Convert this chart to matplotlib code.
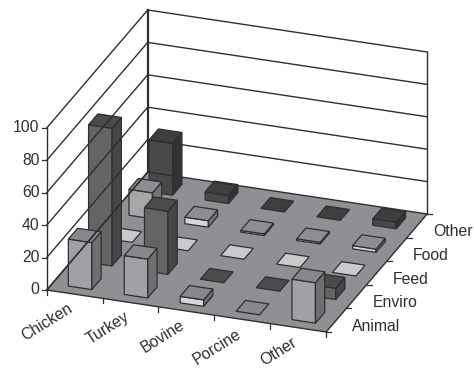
import matplotlib
matplotlib.use('Agg')
import matplotlib.pyplot as plt
from matplotlib.patches import Polygon

plt.rcParams['font.family'] = ['Liberation Sans', 'DejaVu Sans']

# 数据
categories = ['Chicken', 'Turkey', 'Bovine', 'Porcine', 'Other']
sources = ['Animal', 'Enviro', 'Feed', 'Food', 'Other']
animal = [29, 24, 4, 0, 25]
enviro = [85, 39, 0, 0, 7]
feed = [0, 0, 0, 0, 0]
food = [16, 4, 1, 1, 2]
other = [32, 5, 0, 0, 4]
series = [animal, enviro, feed, food, other]
z_ticks = [0, 20, 40, 60, 80, 100]

# 每个系列的颜色 (正面, 顶面, 侧面)
colors = [
    ('#a0a1a4', '#87888b', '#6e6f71'),
    ('#636466', '#4a4b4d', '#454648'),
    ('#c9cacc', '#c9cacc', '#a0a1a4'),
    ('#a6a7a9', '#8d8e91', '#737477'),
    ('#47484a', '#3d3e40', '#323335'),
]
short_front = '#d6d7d9'  # 矮柱子的正面看起来更亮
floor_color = '#8f9093'
edge = '#2f2f2f'
text_color = '#2e2e2e'

# 斜投影: 类别/系列/数值 -> 像素
ORIGIN = (46.7, 290.0)
EX = (55.9, 8.4)
EY = (20.2, -23.6)
EZ = (0.0, -1.62)


def proj(x, y, z=0):
    return (ORIGIN[0] + x * EX[0] + y * EY[0] + z * EZ[0],
            ORIGIN[1] + x * EX[1] + y * EY[1] + z * EZ[1])


def draw_bar(ax, i, j, value, cols):
    x0, x1 = i + 0.29, i + 0.71
    y0, y1 = j + 0.27, j + 0.73
    front = [proj(x0, y0), proj(x1, y0), proj(x1, y0, value), proj(x0, y0, value)]
    side = [proj(x1, y0), proj(x1, y1), proj(x1, y1, value), proj(x1, y0, value)]
    top = [proj(x0, y0, value), proj(x1, y0, value), proj(x1, y1, value), proj(x0, y1, value)]
    lw = 0.9
    if value > 0:
        fc = short_front if (j in (0, 3) and value < 6) else cols[0]
        ax.add_patch(Polygon(front, fc=fc, ec=edge, lw=lw))
        ax.add_patch(Polygon(side, fc=cols[2], ec=edge, lw=lw))
    ax.add_patch(Polygon(top, fc=cols[1], ec=edge, lw=lw))


fig = plt.figure(figsize=(4.74, 3.68), dpi=100)
ax = fig.add_axes([0, 0, 1, 1])
ax.set_xlim(0, 474)
ax.set_ylim(368, 0)
ax.axis('off')

nx, ny = len(categories), len(sources)

# 地板
ax.add_patch(Polygon([proj(0, 0), proj(nx, 0), proj(nx, ny), proj(0, ny)], fc=floor_color, ec='none'))

# 墙上的网格线
for t in z_ticks:
    pts = [proj(0, 0, t), proj(0, ny, t), proj(nx, ny, t)]
    ax.plot([p[0] for p in pts], [p[1] for p in pts], color=edge, lw=1.0, solid_joinstyle='miter')
    ax.plot([ORIGIN[0] - 5, ORIGIN[0]], [proj(0, 0, t)[1]] * 2, color=edge, lw=0.9)
    ax.text(ORIGIN[0] - 7, proj(0, 0, t)[1], str(t), ha='right', va='center', fontsize=11.3, color=text_color)

# 竖线
for (a, b), w in [((0, 0), 1.0), ((0, ny), 1.6), ((nx, ny), 1.0)]:
    p0, p1 = proj(a, b, 0), proj(a, b, 100)
    ax.plot([p0[0], p1[0]], [p0[1], p1[1]], color=edge, lw=w)

# 地板边线和刻度
for p0, p1 in [(proj(0, 0), proj(nx, 0)), (proj(nx, 0), proj(nx, ny)), (proj(0, 0), proj(0, ny))]:
    ax.plot([p0[0], p1[0]], [p0[1], p1[1]], color=edge, lw=1.0)
for i in range(nx + 1):
    p = proj(i, 0)
    ax.plot([p[0], p[0]], [p[1], p[1] + 5], color=edge, lw=0.9)
for j in range(ny + 1):
    p = proj(nx, j)
    ax.plot([p[0], p[0] + 5], [p[1], p[1]], color=edge, lw=0.9)

# 从后往前画柱子
for j in range(ny - 1, -1, -1):
    for i in range(nx):
        draw_bar(ax, i, j, series[j][i], colors[j])

# 类别标签
for i, name in enumerate(categories):
    p = proj(i + 0.5, 0)
    ax.text(p[0] - 3, p[1] + 13, name, ha='right', va='center', rotation=32,
            rotation_mode='anchor', fontsize=11.3, color=text_color)
for j, name in enumerate(sources):
    p = proj(nx, j + 0.5)
    ax.text(p[0] + 16, p[1] + 6, name, ha='left', va='center', fontsize=11.3, color=text_color)

fig.savefig('out.png', dpi=100)
